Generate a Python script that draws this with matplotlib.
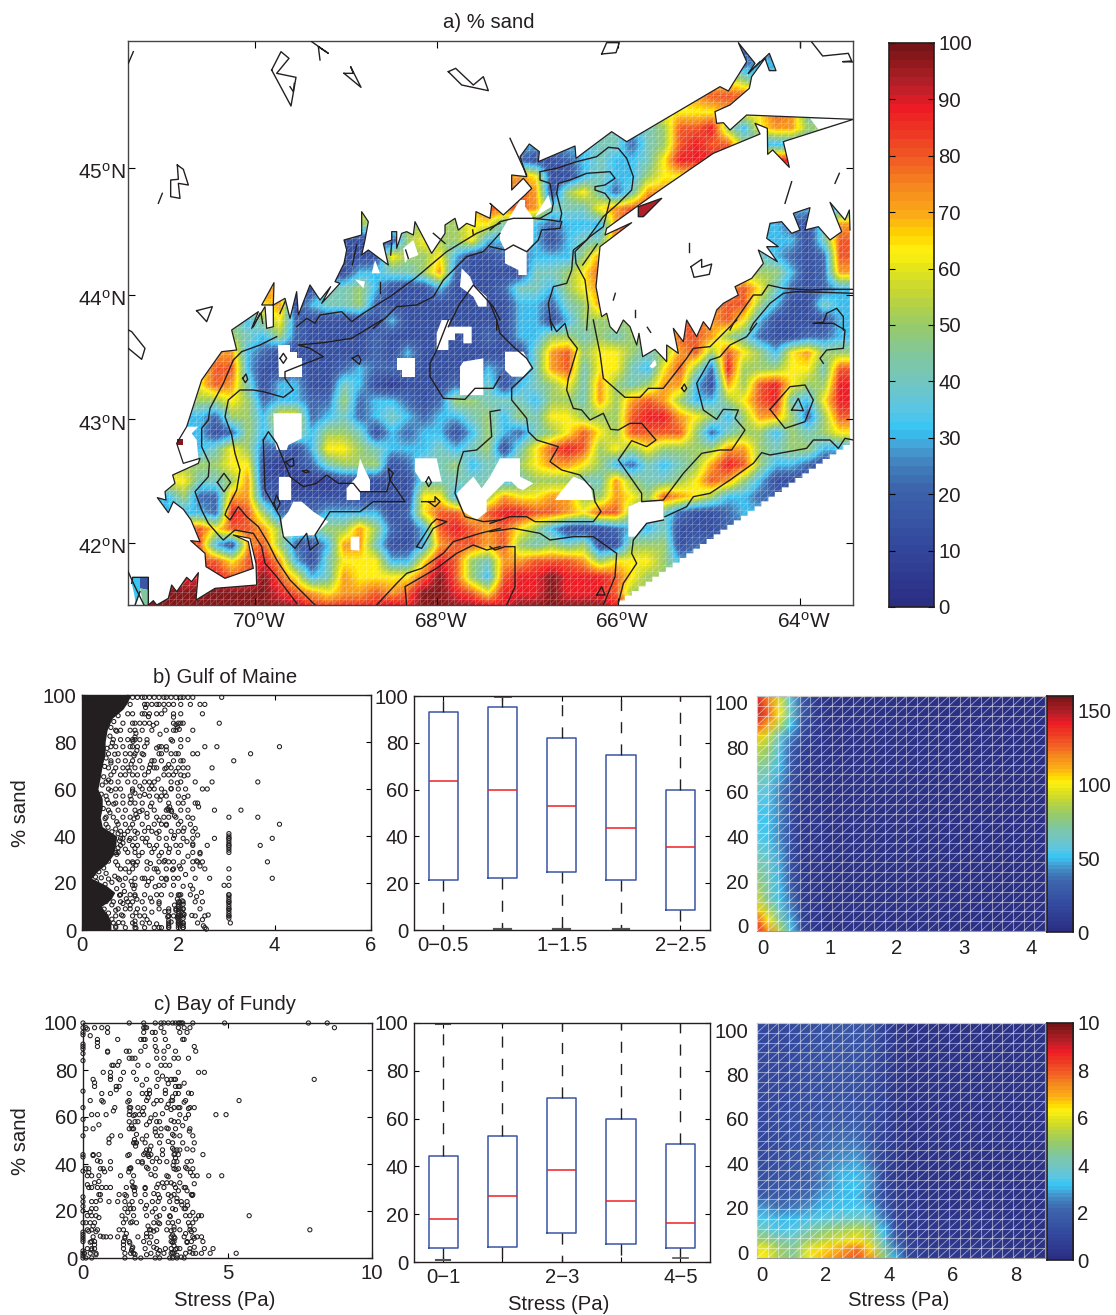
import numpy as np
import matplotlib
matplotlib.use('Agg')
import matplotlib.pyplot as plt
from matplotlib.collections import LineCollection
from matplotlib.colors import LinearSegmentedColormap
from matplotlib.patches import Polygon
from matplotlib.transforms import ScaledTranslation

plt.rcParams['font.family'] = ['Liberation Sans', 'DejaVu Sans']
plt.rcParams['mathtext.fontset'] = 'custom'
plt.rcParams['mathtext.rm'] = 'Liberation Sans'
plt.rcParams['mathtext.default'] = 'rm'
plt.rcParams['font.size'] = 14.6
plt.rcParams['text.color'] = '#231f20'
plt.rcParams['axes.edgecolor'] = '#231f20'
plt.rcParams['xtick.labelcolor'] = '#231f20'
plt.rcParams['ytick.labelcolor'] = '#231f20'

W, H = 1116, 1315
INK = '#231f20'

# % sand map, one character per 16 unit cell. 0-9 and X are sand classes
sand_classes = {'0': 6, '1': 13, '2': 21, '3': 31, '4': 41, '5': 50, '6': 63,
                '7': 72, '8': 80, '9': 88, 'X': 98}
sand_rows = [
    '22222 22222 22222 22222 22222 22222 22222 22222 22222 2',
    '33333 33333 33333 33333 33333 33333 33333 33223 35555 5',
    '55555 55555 55555 55555 55555 55555 55555 66653 33333 3',
    '66666 66666 66666 66666 66666 66666 66666 78888 88888 8',
    '66666 66666 66666 66666 66666 66666 66666 66766 87444 4',
    '44444 44444 44444 44444 44444 44444 43458 89536 77555 5',
    '33333 33333 33333 33333 33333 33334 42458 98853 33333 3',
    '22222 22222 22222 22222 22222 11234 33469 99999 99999 9',
    '77777 77777 77777 77777 77777 61134 33566 66666 66666 6',
    '77777 77777 77777 77777 77778 71564 24777 77777 77777 7',
    '66666 66666 66666 66666 66888 74446 78999 99933 33333 3',
    '55555 55555 55555 55555 56644 32333 79999 99333 32147 7',
    '11111 11111 11111 11565 56333 31344 89944 33333 33148 8',
    '11111 11111 11111 16556 31122 33357 88544 44444 32128 8',
    '11111 11111 11113 34457 21111 44568 88888 65555 53127 7',
    '88888 88886 11445 31113 11124 43567 77777 77786 42123 3',
    '55555 55567 13445 21111 11113 32457 77788 87885 31143 3',
    '55555 55356 21111 13111 11113 31355 55588 87863 11113 3',
    '55555 55435 21111 21111 11213 35545 45558 87542 11223 3',
    '77777 77321 11111 21311 11111 47856 65457 85865 36755 5',
    '66666 88311 21123 22211 11322 47846 64368 52955 56648 8',
    '66666 87413 31143 10111 21413 45647 54577 31758 96559 9',
    '55555 56523 32252 33212 55444 35547 57875 33568 94369 9',
    '33333 25536 62342 34323 34535 46655 58997 65357 75258 8',
    '33333 12535 53554 13233 13532 45686 58888 52455 35456 6',
    '33333 46522 13665 43334 34514 68985 65655 55775 45533 3',
    '55555 56610 12455 51244 53445 67765 32434 57985 33211 1',
    '66664 45711 00011 11144 44434 55544 75445 68753 11111 1',
    '33352 27721 11111 11166 34576 67755 76587 65332 22222 2',
    '33333 29852 22333 31268 86899 88768 85442 11233 33333 3',
    '88888 68875 44557 52138 98786 53111 23341 11222 22222 2',
    '88888 31785 21377 41137 88785 45451 15551 22222 22222 2',
    '88888 86897 31466 63369 85477 88875 66653 33333 33333 3',
    '99999 988X8 63476 6668X 85389 9X999 86555 55555 55555 5',
    'XXXXX XXXX9 87677 878XX 98699 9X999 85555 55555 55555 5',
    'XXXXX XXXXX X9999 9X9XX XXX9X XXXXX 99555 55555 55555 5',
]

# the map was digitised on four overlapping sheets at 3 units per map unit
sheet_origin = {'nw': (120, 30), 'sw': (120, 320), 'ne': (490, 30), 'se': (490, 320)}

coast_sw = [(85, 855), (100, 842), (110, 855), (145, 835), (155, 795), (170, 815), (200, 772), (215, 785),
            (235, 758), (228, 840), (285, 805), (410, 795), (408, 730), (390, 655), (340, 645), (385, 665),
            (400, 745), (315, 775), (258, 740), (255, 700), (212, 662), (240, 665), (213, 600), (190, 568),
            (160, 545), (145, 578), (112, 533), (138, 540), (135, 515), (165, 490), (158, 465), (235, 430),
            (240, 415), (190, 430), (170, 370), (200, 320), (245, 180), (305, 95), (350, 90), (335, 30)]
coast_nw = [(415, 845), (395, 895), (435, 830), (440, 895), (460, 890), (460, 825), (425, 825), (462, 758),
            (460, 825), (495, 805), (510, 865), (530, 785), (535, 855), (570, 765), (600, 810), (632, 770),
            (605, 820), (660, 760), (645, 755), (672, 700), (680, 660), (672, 630), (725, 615), (725, 545),
            (745, 575), (735, 630), (725, 675), (745, 660), (805, 705), (790, 640), (815, 630), (815, 605),
            (830, 605), (830, 655), (845, 610), (860, 605), (880, 615), (885, 575), (935, 670), (975, 610),
            (975, 585), (1005, 565), (1015, 600), (1040, 580), (1065, 590), (1068, 545), (1110, 565),
            (1115, 525)]
coast_ne = [(0, 520), (40, 555), (105, 495), (125, 475), (100, 445), (65, 480), (65, 435), (110, 440), (90, 380),
            (118, 342), (148, 365), (145, 395), (255, 348), (258, 385), (365, 305), (410, 335), (690, 170),
            (715, 183), (770, 95), (745, 38), (795, 100), (775, 130), (838, 70), (858, 122), (838, 122),
            (825, 85), (785, 140), (778, 175), (720, 225), (675, 245), (680, 280), (700, 278), (720, 300),
            (770, 255), (1090, 268), (880, 335), (898, 412), (848, 360), (833, 373), (832, 295), (795, 280),
            (810, 312), (670, 370), (510, 480), (440, 530), (350, 595), (345, 615), (425, 578), (330, 650),
            (318, 770), (335, 860), (350, 850)]
coast_se = [(360, 20), (380, 40), (400, 0), (420, 20), (440, 75), (447, 40), (458, 110), (495, 88), (530, 125),
            (530, 75), (565, 100), (550, 25), (580, 65), (590, 0), (620, 50), (640, 5), (660, 30)]
coast_ne2 = [(680, 840), (700, 820), (745, 795), (735, 770), (785, 745), (820, 700), (805, 660), (862, 695),
             (830, 650), (865, 650), (830, 625), (840, 580), (875, 575), (905, 610), (930, 600), (910, 550),
             (960, 533), (945, 600), (985, 590), (1020, 630), (1055, 605), (1020, 517), (1065, 570), (1078, 540),
             (1080, 600)]
# south east edge of the grid, on sheet se
stair_x = [1080, 1060, 1039, 1019, 998, 978, 957, 937, 916, 896, 876, 855, 835, 814, 794, 773, 753, 732, 712,
           691, 671, 650, 630, 610, 589, 569, 548, 528, 507, 487, 467, 446, 426, 405, 385]
stair_y = [375, 389, 403, 417, 431, 446, 460, 474, 488, 502, 516, 530, 544, 559, 573, 587, 601, 615, 629, 643,
           657, 672, 686, 700, 714, 728, 742, 756, 770, 785, 799, 813, 827, 841, 855]

# places without data inside the grid
holes_sw = [
    [(475, 75), (510, 75), (510, 95), (530, 95), (530, 115), (545, 115), (545, 170), (478, 170)],
    [(460, 280), (545, 280), (545, 355), (505, 375), (500, 390), (470, 390), (462, 350)],
    [(830, 115), (885, 115), (885, 170), (845, 170), (845, 150), (830, 150)],
    [(965, 0), (990, 0), (985, 20), (1055, 20), (1055, 70), (1030, 70), (1030, 40), (1005, 40), (1005, 60),
     (985, 60), (985, 90), (950, 90), (950, 40)],
    [(1030, 125), (1090, 115), (1090, 225), (1020, 225), (1020, 140)],
    [(478, 470), (512, 470), (512, 540), (478, 540)],
    [(520, 545), (545, 545), (580, 575), (625, 605), (585, 645), (485, 650), (485, 600), (505, 575)],
    [(680, 505), (710, 470), (720, 415), (735, 450), (750, 480), (750, 515), (720, 515), (720, 540), (680, 540)],
    [(885, 415), (950, 415), (965, 485), (905, 485), (885, 455)],
    [(692, 650), (718, 650), (718, 692), (692, 690)],
    [(1010, 520), (1060, 470), (1085, 505), (1110, 470), (1140, 415), (1200, 415), (1200, 470), (1240, 490),
     (1210, 510), (1195, 505), (1175, 485), (1155, 485), (1130, 510), (1100, 540), (1100, 575), (1070, 600),
     (1030, 575)],
    [(200, 320), (235, 320), (215, 340), (230, 360), (235, 415), (190, 430), (170, 370)],
]
holes_se = [
    [(195, 540), (205, 525), (250, 470), (300, 490), (310, 540)],
    [(415, 560), (450, 545), (520, 545), (520, 600), (470, 610), (435, 650), (415, 650)],
    [(45, 95), (100, 95), (125, 140), (100, 170), (65, 170), (45, 150)],
    [(478, 140), (495, 118), (500, 135), (488, 145)],
]
holes_ne = [
    [(30, 610), (90, 510), (105, 510), (105, 530), (130, 565), (130, 640), (110, 665), (110, 735), (85, 735),
     (85, 720), (45, 700), (45, 660), (30, 630)],
    [(135, 560), (175, 495), (185, 530)],
    [(960, 265), (1090, 268), (985, 298)],
]
holes_nw = [
    [(1025, 715), (1050, 740), (1060, 765), (1100, 800), (1100, 830), (1075, 830), (1060, 800), (1020, 770)],
    [(765, 690), (780, 730), (755, 730)],
    [(705, 748), (735, 755), (730, 775)],
    [(850, 655), (880, 630), (895, 675), (862, 688), (855, 700)],
]
# small pieces with their own sand value
pieces_ne = [([(445, 530), (515, 505), (460, 560), (445, 560)], 93)]
pieces_sw = [([(172, 358), (188, 358), (188, 375), (172, 375)], 98),
             ([(60, 772), (85, 772), (85, 810), (60, 805)], 16),
             ([(35, 790), (38, 772), (60, 772), (60, 815), (48, 855), (42, 820)], 32),
             ([(60, 805), (85, 810), (85, 855), (70, 855)], 45)]

# isobaths and islands, open lines, by sheet
lines_sw = [
    [(470, 50), (420, 75), (365, 95), (340, 120), (310, 190), (270, 265), (265, 300), (245, 325), (245, 380),
     (268, 430), (265, 470), (225, 515), (245, 570), (265, 610), (300, 650), (310, 660), (345, 630), (400, 640),
     (425, 680), (435, 730), (470, 770), (530, 850)],
    [(785, 0), (695, 55), (610, 68), (535, 75), (570, 85), (610, 110), (545, 135), (495, 155), (495, 175),
     (520, 210), (490, 232), (430, 215), (400, 210), (360, 210), (325, 240), (315, 290), (335, 345), (345, 400),
     (360, 450), (350, 510), (320, 570), (315, 585), (330, 600), (355, 560), (380, 590), (415, 620), (445, 670),
     (470, 720), (510, 780), (585, 855)],
    [(985, 0), (950, 90), (930, 130), (930, 170), (970, 235), (1035, 238), (1065, 205), (1120, 205), (1140, 170)],
    [(430, 360), (445, 335), (470, 370), (490, 420), (510, 470), (550, 500), (590, 490), (620, 465), (655, 490),
     (700, 490), (720, 515), (800, 515), (810, 480), (805, 445), (820, 460), (810, 480), (855, 545), (760, 545),
     (720, 575), (630, 575), (585, 645), (595, 670), (570, 690), (560, 640), (525, 685), (490, 650), (480, 590),
     (435, 510), (430, 360)],
    [(1140, 270), (1110, 275), (1115, 350), (1070, 390), (1030, 395), (1015, 440), (1005, 520), (1035, 590),
     (1090, 605), (1140, 600)],
    [(890, 680), (935, 610), (950, 597), (980, 605), (940, 625), (905, 685), (890, 680)],
    [(770, 855), (830, 790), (860, 760), (905, 745), (970, 700), (1000, 665), (1080, 640), (1140, 625)],
    [(860, 855), (855, 800), (950, 745), (1010, 700), (1060, 675), (1100, 690), (1140, 680)],
    [(480, 115), (490, 100), (500, 115), (490, 130), (480, 115)],
    [(368, 175), (378, 162), (383, 178), (376, 188), (368, 175)],
    [(697, 115), (715, 105), (723, 120), (718, 133), (697, 115)],
    [(292, 487), (312, 460), (332, 487), (312, 515), (292, 487)],
    [(462, 548), (470, 525), (480, 550), (470, 572), (462, 548)],
    [(497, 425), (520, 415), (522, 437), (510, 440), (497, 425)],
    [(548, 453), (560, 450), (568, 456), (556, 458), (548, 453)],
    [(918, 485), (926, 470), (934, 487), (926, 500), (918, 485)],
    [(905, 545), (945, 545), (945, 530), (960, 545), (945, 560), (925, 545)],
    [(25, 30), (35, 35), (75, 85), (65, 118), (25, 85)],
    [(35, 790), (38, 772), (85, 772), (85, 855)],
    [(22, 750), (45, 800), (72, 855)],
    [(45, 855), (60, 815)],
]
lines_nw = [
    [(530, 890), (560, 865), (585, 880), (600, 855), (665, 845), (695, 875), (730, 850), (810, 800), (885, 745),
     (950, 690), (980, 665), (1070, 610), (1140, 580)],
    [(760, 895), (800, 860), (830, 830), (890, 825), (940, 800), (970, 750), (1040, 680), (1090, 665), (1140, 610)],
    [(985, 890), (1020, 820), (1060, 765), (1120, 830), (1140, 870)],
    [(25, 100), (40, 65)],
    [(455, 120), (483, 65), (507, 85), (470, 130), (528, 142), (513, 228), (455, 120)],
    [(510, 170), (520, 185), (523, 160)],
    [(575, 35), (625, 70), (595, 50), (600, 90)],
    [(672, 130), (700, 130), (692, 110), (723, 172), (672, 130)],
    [(985, 125), (1007, 115), (1060, 165), (1090, 140), (1105, 182), (1025, 165), (985, 125)],
    [(172, 405), (190, 418), (205, 465), (175, 460), (180, 505), (152, 500), (152, 450), (175, 448), (172, 405)],
    [(115, 520), (127, 490)],
    [(230, 842), (277, 830), (260, 875), (230, 842)],
    [(697, 705), (710, 645)],
    [(812, 675), (815, 640)],
    [(857, 660), (865, 685)],
    [(780, 755), (780, 790)],
    [(940, 610), (975, 640)],
    [(1060, 615), (1058, 600)],
    [(400, 890), (420, 850)],
    [(480, 850), (495, 815)],
    [(428, 880), (423, 850)],
]
lines_ne = [
    [(130, 565), (180, 570), (210, 575), (215, 550), (200, 490), (205, 460), (240, 450), (290, 430), (360, 425),
     (375, 445), (345, 465), (315, 470), (315, 480), (345, 490), (360, 510), (340, 590), (300, 620), (255, 665),
     (258, 700), (285, 750), (295, 830), (290, 900)],
    [(150, 425), (150, 450), (180, 460), (190, 520), (185, 545), (150, 565), (130, 565)],
    [(150, 425), (200, 415), (260, 395), (320, 380), (355, 352), (385, 355), (410, 385), (430, 440), (425, 480),
     (385, 520), (340, 560), (290, 630), (250, 660), (245, 720), (230, 760), (190, 770), (175, 820), (185, 900)],
    [(0, 600), (30, 575), (70, 565), (130, 565)],
    [(0, 650), (45, 660), (70, 645), (110, 665), (145, 630), (155, 600), (210, 595), (215, 575)],
    [(0, 820), (20, 870), (20, 900)],
    [(1090, 778), (1000, 778), (960, 780), (880, 775), (835, 765), (815, 795), (790, 795), (730, 880), (720, 900)],
    [(1090, 790), (1030, 788), (920, 785), (880, 790), (840, 820), (790, 880), (780, 900)],
    [(970, 880), (1000, 877), (1010, 850), (1040, 835), (1060, 860), (1060, 900)],
    [(335, 72), (350, 38), (388, 38), (378, 68), (335, 72)],
    [(965, 36), (998, 78), (1075, 70), (1085, 93), (1058, 95), (1090, 96)],
    [(930, 36), (930, 52)],
    [(885, 520), (905, 455)],
    [(1035, 460), (1048, 430)],
    [(597, 640), (597, 665)],
    [(603, 710), (635, 688), (635, 712), (665, 702), (658, 733), (612, 742), (603, 710)],
    [(370, 810), (376, 790)],
    [(435, 840), (435, 862)],
    [(60, 325), (110, 435)],
    [(278, 705), (322, 642)],
    [(775, 130), (810, 95)],
    [(445, 530), (515, 505), (460, 560), (445, 560), (445, 530)],
]
lines_se = [
    [(20, 0), (30, 40), (70, 80), (110, 115), (128, 145), (100, 172), (65, 205), (65, 240), (110, 295), (115, 335),
     (140, 360), (205, 380), (180, 425), (215, 450), (270, 465), (310, 510), (315, 545), (333, 575), (310, 605),
     (235, 605), (135, 605), (110, 590), (60, 590), (30, 600), (0, 610)],
    [(180, 0), (200, 35), (225, 10), (235, 50), (262, 85), (235, 175), (230, 210), (250, 265), (275, 270), (300, 300),
     (340, 280), (362, 328), (385, 330), (420, 310), (455, 310), (498, 360), (470, 380), (425, 362), (385, 420),
     (455, 520), (455, 545), (520, 540), (580, 460), (635, 400), (690, 390), (725, 390), (765, 330), (735, 295),
     (745, 270), (700, 268), (680, 298), (640, 270), (620, 190), (660, 120), (690, 110), (720, 75), (770, 50),
     (800, 10)],
    [(310, 0), (330, 100), (340, 175), (405, 232), (450, 232), (475, 205), (520, 205), (590, 115), (610, 85),
     (660, 80), (720, 20), (740, 0)],
    [(0, 635), (70, 625), (150, 640), (180, 660), (250, 650), (310, 650), (380, 700), (375, 770), (340, 855)],
    [(520, 600), (470, 610), (430, 660), (425, 700), (440, 730), (400, 790), (385, 850)],
    [(525, 590), (590, 560), (610, 530), (660, 520), (720, 480), (790, 430), (815, 398), (840, 405), (950, 385),
     (970, 360), (1020, 360), (1045, 385), (1065, 355), (1090, 360)],
    [(840, 268), (900, 200), (945, 195), (970, 240), (945, 305), (885, 325), (840, 268)],
    [(905, 270), (925, 235), (940, 272), (905, 270)],
    [(0, 680), (15, 690), (45, 680), (75, 680), (75, 800), (50, 855)],
    [(320, 825), (335, 800), (345, 825), (320, 825)],
    [(1000, 130), (990, 115), (1010, 90), (1060, 85), (1065, 30), (1030, 10), (970, 10)],
    [(575, 205), (583, 192), (590, 205), (583, 215), (575, 205)],
    [(472, 22), (482, 37)],
]

map_lon_labels = ['70', '68', '66', '64']
map_lon_pos = [255, 436.7, 618.3, 800]
map_lat_labels = ['45', '44', '43', '42']
map_lat_pos = [167.7, 295, 419.3, 542.7]

# b) Gulf of Maine scatter. The dense part next to the axis is a filled band
gom_band_sand = [0, 3, 6, 10, 13, 16, 19, 22, 25, 28, 32, 36, 40, 44, 48, 52, 56, 60, 65, 70, 75, 80, 85, 90, 94, 97, 100]
gom_band_edge = [0.6, 0.6, 0.55, 0.4, 0.6, 0.68, 0.5, 0.2, 0.32, 0.5, 0.65, 0.7, 0.72, 0.42, 0.38, 0.42, 0.42, 0.33, 0.38, 0.42, 0.48, 0.48, 0.52, 0.62, 0.85, 0.95, 1.0]
gom_levels = [99, 96, 92, 88, 85, 81, 78, 75, 72, 69, 66, 63, 60, 57, 54, 51, 48, 45, 42, 39, 36, 33, 29, 26, 22, 19, 15, 12, 9, 6, 3, 1]
gom_stress = [
    [0.95, 1.05, 1.15, 1.25, 1.3, 1.4, 1.5, 1.6, 1.7, 1.75, 1.85, 1.95, 2.05, 2.1, 2.2, 2.3, 2.9],
    [1.0, 1.3, 1.35, 1.45, 1.55, 1.6, 1.7, 1.8, 1.9, 2.05, 2.25, 2.45, 2.55],
    [0.95, 1.05, 1.25, 1.3, 1.4, 1.55, 1.65, 1.9, 2.05, 2.5],
    [0.85, 1.05, 1.1, 1.2, 1.3, 1.4, 1.55, 1.9, 2.0, 2.05, 2.1, 2.85],
    [0.7, 0.8, 1.0, 1.1, 1.25, 1.45, 1.75, 1.9, 1.95, 2.3],
    [0.65, 0.8, 0.95, 1.05, 1.1, 1.2, 1.35, 1.85, 2.05, 2.2],
    [0.6, 0.7, 0.85, 1.0, 1.05, 1.15, 1.3, 1.6, 1.65, 1.75, 2.05, 2.55, 2.8, 4.1],
    [0.55, 0.75, 0.9, 1.0, 1.1, 1.25, 1.6, 1.65, 1.85, 1.95, 2.0, 2.3, 2.4, 3.5],
    [0.6, 0.75, 0.9, 1.05, 1.2, 1.45, 1.5, 1.65, 1.9, 2.05, 2.1, 3.15],
    [0.55, 0.7, 0.85, 0.95, 1.1, 1.25, 1.4, 1.5, 1.55, 1.75, 1.85, 2.0, 2.1, 2.2, 2.7],
    [0.6, 0.8, 0.9, 1.05, 1.15, 1.3, 1.7, 1.8, 1.9, 2.05, 2.2],
    [0.5, 0.6, 0.75, 0.95, 1.1, 1.3, 1.4, 1.5, 1.85, 2.05, 2.35, 2.7, 3.65],
    [0.55, 0.7, 0.8, 1.05, 1.25, 1.4, 1.5, 1.65, 1.85, 2.0, 2.15, 2.5, 2.6],
    [0.5, 0.7, 0.85, 1.0, 1.2, 1.4, 1.55, 1.65, 1.75, 2.0, 2.2],
    [0.55, 0.7, 0.85, 1.0, 1.1, 1.25, 1.45, 1.8, 2.0, 2.1, 2.35, 2.4],
    [0.55, 0.75, 0.9, 1.1, 1.25, 1.5, 1.75, 1.8, 1.85, 2.05, 2.2, 2.75, 3.3],
    [0.5, 0.65, 0.85, 1.0, 1.15, 1.35, 1.55, 1.7, 1.8, 1.95, 2.2, 3.05, 3.65],
    [0.5, 0.75, 0.9, 1.05, 1.25, 1.5, 1.65, 1.75, 2.0, 2.25, 4.1],
    [0.8, 0.95, 1.1, 1.3, 1.45, 1.6, 1.85, 2.0, 2.1, 2.3],
    [0.85, 1.0, 1.1, 1.25, 1.35, 1.6, 1.75, 1.9, 2.1, 2.3, 2.75, 3.05, 3.95],
    [0.8, 1.05, 1.15, 1.4, 1.55, 1.75, 1.95, 2.05, 2.3, 2.6, 3.05, 3.7],
    [0.75, 0.95, 1.1, 1.25, 1.45, 1.65, 1.8, 2.0, 2.3, 2.45, 3.05],
    [0.7, 0.95, 1.05, 1.15, 1.35, 1.6, 1.7, 1.8, 1.9, 2.1, 2.3, 2.4, 2.5, 3.85],
    [0.8, 0.9, 1.05, 1.35, 1.5, 1.55, 1.75, 1.9, 2.05, 2.3, 2.55, 3.05],
    [0.75, 0.9, 1.1, 1.25, 1.3, 1.45, 1.65, 1.75, 1.9, 2.0, 2.35, 2.65, 3.05, 3.95],
    [0.85, 1.05, 1.1, 1.35, 1.6, 1.7, 1.9, 2.25, 2.95, 3.05],
    [0.8, 1.0, 1.1, 1.3, 1.55, 1.65, 1.85, 2.0, 2.05, 2.25, 3.05],
    [0.65, 0.8, 0.95, 1.05, 1.25, 1.45, 1.6, 2.0, 2.1, 2.35, 2.5, 3.05],
    [0.75, 0.9, 1.0, 1.15, 1.3, 1.6, 1.8, 1.95, 2.05, 2.1, 2.45, 3.05],
    [0.7, 0.85, 1.05, 1.2, 1.3, 1.8, 1.9, 2.0, 2.05, 2.1, 2.35, 2.55, 3.05],
    [0.65, 0.85, 1.05, 1.25, 1.4, 1.8, 2.0, 2.05, 2.1, 2.4, 3.08],
    [0.7, 0.9, 1.1, 1.3, 1.6, 1.65, 1.8, 2.0, 2.1, 2.55],
]
# the columns of points near 3 Pa and 2 Pa
gom_col_sand = [41, 40, 39, 38, 37, 36, 35, 34, 15, 14, 13, 12, 11, 10, 9, 8, 7, 6, 5, 11, 10, 9, 8, 7, 6, 5, 4, 3, 2, 11, 9, 7, 5, 3, 2, 1, 8, 6, 4, 2, 41, 39, 37, 43, 35, 33]
gom_col_stress = [3.05, 3.05, 3.05, 3.05, 3.05, 3.05, 3.05, 3.05, 3.05, 3.05, 3.05, 3.05, 3.05, 3.05, 3.05, 3.05, 3.05, 3.05, 3.05, 2.0, 2.0, 2.0, 2.0, 2.0, 2.0, 2.0, 2.0, 2.0, 2.0, 2.1, 2.1, 2.1, 2.1, 2.1, 2.1, 2.1, 1.8, 1.8, 1.8, 1.8, 0.75, 0.8, 0.85, 0.7, 0.75, 0.7]
# loose points between the levels
gom_loose = [
    (.62, 98), (.7, 93.4), (.75, 91.2), (.66, 88.7), (.6, 86.2), (.72, 84.6), (.58, 82.5), (.63, 79.7), (.52, 77.3),
    (.68, 74.8), (.5, 73.2), (.6, 71.1), (.47, 69.6), (.66, 67.4), (.45, 65.2), (.55, 63.8), (.42, 61.7), (.6, 59.3),
    (.4, 57.8), (.52, 55.4), (.66, 53.6), (.44, 51.7), (.58, 49.9), (.48, 47.4), (.72, 46.1), (.54, 43.7), (.62, 41.8),
    (.88, 40.7), (.78, 37.9), (.9, 34.4), (.72, 32.2), (.55, 29.3), (.74, 27.6), (.45, 26.4), (.35, 24.8), (.5, 24.1),
    (.28, 22.6), (.4, 22.2), (.55, 21.7), (.68, 22.9), (.3, 20.6), (.48, 19.4), (.62, 20.3), (.78, 21.4), (.38, 18.2),
    (.72, 17.6), (.88, 16.4), (.92, 13.3), (.78, 14.8), (.5, 12.1), (.62, 10.7), (.46, 8.9), (.55, 7.2), (.7, 8.4),
    (.48, 5.8), (.62, 4.6), (.76, 3.2), (.7, 1.6), (.82, 6.4), (.85, 11.3),
    (1.12, 83.7), (1.1, 82.1), (1.06, 80.3), (1.14, 76.4), (1.08, 74.1), (1.02, 70.6), (.98, 67.7), (1.2, 61.2),
    (1.05, 59.1), (1.1, 58.2), (1.02, 55.6), (1.2, 50.4), (1.12, 49.2), (1.08, 47.3), (1.0, 43.4), (1.15, 41.2),
    (.98, 38.1), (1.1, 34.7), (1.18, 31.6), (1.06, 28.4), (1.12, 27.6), (.98, 24.6), (1.02, 20.7), (1.08, 17.6),
    (1.1, 14.4), (1.14, 13.1), (1.0, 10.6), (1.12, 7.4), (1.1, 3.8), (1.1, 2.2), (1.12, .8),
    (1.32, 94.7), (1.38, 90.8), (1.48, 87.1), (1.62, 83.3), (1.35, 79.6), (1.28, 74.6), (1.55, 77.4), (1.42, 70.4),
    (1.38, 67.3), (1.58, 64.2), (1.45, 61.3), (1.3, 57.7), (1.62, 55.3), (1.42, 52.6), (1.35, 49.6), (1.6, 46.7),
    (1.38, 43.6), (1.55, 41.2), (1.32, 37.4), (1.5, 34.7), (1.6, 31.6), (1.42, 28.3), (1.58, 24.7), (1.38, 20.6),
    (1.52, 18.4), (1.42, 13.6), (1.6, 11.2), (1.45, 7.6), (1.35, 4.4), (1.55, 2.6), (1.5, 1),
    (1.72, 93.6), (1.9, 90.6), (1.95, 87.4), (1.98, 86.3), (2.02, 85.4), (1.88, 80.4), (1.75, 76.6), (1.8, 70.4),
    (1.72, 68.6), (1.95, 67.4), (2.12, 65.6), (1.98, 62.6), (1.85, 60.2), (1.72, 58.6), (2.12, 56.4), (1.82, 52.4),
    (1.78, 51.6), (1.86, 50.4), (1.92, 48.6), (2.05, 46.2), (1.75, 44.6), (2.12, 43.4), (1.92, 40.2), (2.18, 37.6),
    (1.82, 34.6), (2.2, 31.4), (1.72, 29.6), (2.02, 27.2), (1.88, 25.6), (2.15, 23.6), (1.75, 21.4), (2.1, 18.6),
    (2.02, 14.8), (1.98, 13.2), (2.03, 11.6), (1.92, 10.6), (2.08, 12.4), (1.95, 8.4), (2.12, 6.6), (1.98, 5.2),
    (1.85, 3.4), (1.72, 7.8), (1.78, 5.6), (1.8, 1.2),
    (2.3, 47.6), (2.35, 43.2), (2.4, 40.4), (2.42, 52.4), (2.38, 29.4), (2.45, 27.2), (2.3, 17.4), (2.38, 14.2),
    (2.28, 6.2), (2.48, 16), (2.5, 4.4), (2.52, 1.8), (2.58, 0.4), (2.62, 6.4), (2.45, 32.4), (2.3, 36.6),
]

# c) Bay of Fundy scatter
fundy_levels = [100, 98, 96, 93, 90, 88, 85, 82, 79, 76, 73, 70, 67, 64, 61, 58, 55, 52, 49, 46, 44, 41, 38, 35, 32, 30, 27, 24, 21, 18, 15, 12, 9, 7, 4, 2, 0]
fundy_stress = [
    [1.6, 2.1, 2.5, 2.7, 2.8, 2.95, 3.1, 3.2, 3.3, 3.35, 3.4, 3.45, 3.8, 4.9, 7.8, 8.45],
    [0.1, 0.4, 0.65, 0.85, 2.1, 2.15, 2.2, 2.7, 3.3, 3.5, 3.7, 8.7],
    [0.85, 2.1, 2.4, 2.5, 2.8, 3.35, 3.6],
    [1.2, 0.5, 2.0, 2.1, 2.15, 2.5, 2.85, 3.5, 3.45],
    [0.5, 2.15, 2.5, 2.95, 3.85],
    [0.85, 1.5, 1.6, 2.0, 2.55, 2.8, 3.2, 3.9],
    [1.6, 1.7, 1.8, 2.55, 2.8, 3.15, 3.3, 3.65],
    [1.0, 1.05, 1.2, 1.9, 2.25, 2.7, 2.85, 3.0],
    [0.95, 0.7, 1.4, 1.75, 2.55, 3.3, 4.0, 4.2],
    [0.35, 0.95, 1.3, 1.85, 2.2, 2.6, 2.9, 3.05, 3.15, 3.2, 8.0],
    [0.4, 1.15, 1.25, 2.55, 3.2, 3.3, 3.35],
    [0.65, 0.95, 1.6, 2.05, 2.2, 2.3, 2.85, 3.2, 3.3, 3.75],
    [0.25, 0.65, 1.6, 2.2, 2.55, 2.7, 3.05, 3.1, 3.55, 5.4],
    [1.1, 1.6, 1.65, 1.9, 2.1, 2.9, 3.15, 3.3, 3.35, 3.7, 3.85],
    [0.3, 0.5, 0.8, 1.6, 1.8, 1.95, 2.1, 2.5, 3.35, 3.65, 4.6, 4.95],
    [1.6, 1.8, 1.9, 2.3, 2.55, 2.65, 3.15, 3.3],
    [0.1, 0.35, 1.75, 1.7, 1.6, 2.5, 2.7, 2.95, 3.2, 3.7],
    [1.0, 1.3, 2.2, 2.55, 2.7, 3.15, 3.35, 3.8],
    [0.9, 1.75, 1.8, 1.85, 2.15, 2.65, 3.1, 3.85, 3.45],
    [2.2, 2.3, 2.75, 3.15, 3.25, 3.35, 3.8],
    [0.35, 0.55, 1.6, 2.1, 2.25, 2.35, 2.75, 3.15, 3.3, 4.15],
    [0.6, 0.95, 1.9, 2.05, 2.4, 2.65, 2.9, 3.15, 3.25, 3.6],
    [0.1, 0.2, 0.6, 0.7, 0.95, 1.6, 1.65, 2.25, 2.5, 3.15, 3.3, 3.6, 3.8],
    [0.15, 0.3, 0.55, 1.3, 1.75, 2.5, 2.9, 3.35, 3.8, 3.95, 4.35, 4.8],
    [0.4, 2.75, 2.9, 3.05, 3.35],
    [0.2, 0.3, 0.5, 0.65, 0.8, 0.95, 1.5, 1.75, 1.8, 2.15, 2.55, 2.8, 3.2, 3.5, 3.55],
    [0.55, 0.6, 1.25, 1.45, 1.8, 2.15, 2.6, 2.95, 3.15, 3.75, 3.8],
    [0.3, 0.45, 0.9, 1.2, 1.45, 1.7, 2.0, 2.4, 2.6, 3.0, 3.25, 3.4, 3.6],
    [0.3, 0.45, 1.45, 1.65, 1.75, 2.15, 2.5, 2.8, 3.1, 3.5, 3.55],
    [0.15, 0.3, 0.45, 1.35, 1.75, 2.2, 2.65, 3.0, 3.55, 3.7, 4.0, 4.1, 5.75],
    [0.1, 0.25, 0.4, 1.4, 1.65, 1.85, 2.45, 2.6, 2.95, 3.1, 3.65, 3.8],
    [0.15, 0.3, 0.5, 1.25, 1.4, 2.3, 2.35, 2.55, 2.9, 3.15, 3.35, 3.7, 3.85, 7.85],
    [0.35, 0.7, 0.8, 0.95, 1.2, 1.45, 1.9, 2.2, 2.35, 3.05, 3.15, 3.5, 3.8, 3.95, 4.1],
    [0.3, 0.4, 1.4, 1.6, 2.1, 2.55, 3.05, 3.15, 3.6, 3.75, 4.15],
    [0.15, 0.3, 0.4, 1.4, 1.7, 2.15, 2.55, 2.85, 3.05, 3.25, 3.35, 3.7, 4.2, 4.5],
    [0.05, 0.25, 0.45, 1.45, 1.65, 1.75, 2.35, 2.6, 2.8, 3.05, 3.15, 3.55, 3.8, 3.9, 4.1, 4.4, 5.3],
    [0.1, 0.3, 1.45, 1.8, 2.0, 2.5, 2.65, 3.0, 3.1, 3.25, 3.5],
]
# points sitting on the zero stress axis
fundy_zero_sand = [100, 98, 96, 95, 91, 90, 89, 87, 84, 71, 64, 59, 52, 44, 43, 37, 26, 24, 22, 20, 15, 11, 10, 9, 8, 7, 3, 2, 1, 0]
fundy_loose = [
    (.15, 97.4), (.25, 94.6), (.5, 91.7), (.85, 87.6), (1.25, 83.6), (.95, 77.2), (1.15, 71.6), (.4, 74.6), (.7, 66.4),
    (1.05, 62.6), (.55, 56.7), (.9, 50.7), (.35, 43.6), (.5, 41.4), (.2, 36.4), (.75, 36.7), (.55, 32.6), (.15, 31.2),
    (.6, 24.6), (.25, 19.6), (.55, 17.2), (.35, 13.6), (.2, 11.4), (.45, 11.2), (.6, 9.3), (.25, 6.7), (.4, 5.6),
    (.3, 3.4), (.45, 1.4),
    (1.55, 66.4), (1.62, 62.4), (1.75, 60.6), (1.68, 56.2), (1.85, 52.6), (1.78, 50.4), (1.82, 47.6), (1.55, 43.6),
    (1.65, 38.4), (1.58, 36.6), (1.7, 32.4), (1.72, 30.4), (1.78, 28.6), (1.5, 26.4), (1.6, 22.6), (1.55, 19.4),
    (1.48, 16.6), (1.7, 15.4), (1.5, 10.4), (1.62, 6.4), (1.45, 8.4), (1.4, 5.6), (1.72, 4.6), (1.8, 1.6), (1.68, 3.2),
    (2.05, 73.6), (2.3, 71.4), (2.25, 68.2), (2.45, 65.6), (2.05, 62.3), (2.35, 59.6), (2.2, 56.7), (2.5, 53.6),
    (2.05, 50.6), (2.35, 47.6), (2.15, 44.7), (2.28, 43.2), (2.55, 42.4), (2.05, 40.4), (2.2, 38.6), (2.35, 35.6),
    (2.6, 31.4), (2.15, 29.6), (2.45, 27.4), (2.65, 25.6), (2.2, 22.4), (2.4, 19.6), (2.55, 17.4), (2.25, 13.6),
    (2.45, 11.4), (2.65, 14.6), (2.2, 10.4), (2.3, 6.4), (2.45, 4.6), (2.65, 3.2), (2.2, 1.4),
    (2.75, 77.4), (2.95, 74.2), (2.85, 71.4), (3.1, 68.6), (2.95, 65.4), (3.05, 63.2), (2.75, 61.4), (3.05, 58.6),
    (2.9, 55.3), (3.1, 52.6), (2.95, 49.6), (3.1, 46.7), (3.18, 44.3), (3.2, 42.6), (3.12, 39.4), (3.22, 37.6),
    (2.95, 34.6), (3.15, 31.3), (3.3, 28.6), (3.05, 26.3), (3.25, 25.4), (3.42, 22.6), (3.2, 20.6), (3.02, 17.6),
    (3.3, 15.6), (3.15, 13.2), (3.05, 11.6), (3.1, 9.8), (3.18, 8.4), (3.1, 6.6), (3.15, 5.2), (3.2, 3.6), (3.1, 2.2),
    (3.25, 1.2), (3.4, .4),
    (3.5, 74.4), (3.65, 70.2), (3.5, 66.3), (3.65, 63.6), (3.55, 59.4), (3.45, 56.3), (3.68, 54), (3.6, 46.4),
    (3.75, 41.2), (3.55, 38.6), (3.72, 36.4), (3.85, 31.6), (3.6, 28.6), (3.78, 26.6), (3.62, 22.4), (3.8, 19.4),
    (3.9, 16.6), (3.7, 13.6), (3.55, 10.4), (3.75, 11.2), (3.85, 8.4), (3.6, 6.6), (3.85, 4.6), (3.7, 2.6),
]

# box plots
gom_box_labels = ['0\u22120.5', '', '1\u22121.5', '', '2\u22122.5']
gom_q1 = [21.5, 22.3, 25, 21.5, 8.5]
gom_median = [63.8, 60, 52.8, 43.5, 35.5]
gom_q3 = [93.2, 95.3, 82, 74.8, 60]
gom_low = [0, 0, 0, 0, 0]
gom_high = [100, 100, 100, 100, 100]

fundy_box_labels = ['0\u22121', '', '2\u22123', '', '4\u22125']
fundy_q1 = [5.7, 6.3, 12, 7.7, 5.7]
fundy_median = [17.8, 27.8, 38.5, 25.7, 16.3]
fundy_q3 = [44.3, 52.8, 68.7, 60, 49.5]
fundy_low = [0.8, 0, 0, 0, 1.5]
fundy_high = [99.5, 100, 100, 100, 100]

# joint distributions of stress and sand
gom_hist_stress = [-0.08, 0.08, 0.25, 0.42, 0.6, 0.8, 1.0, 4.2]
gom_hist_sand = [-2.3, 3, 7, 12, 20, 30, 40, 50, 60, 70, 80, 85, 90, 95, 103]
gom_hist = [
    [140, 115, 85, 55, 15, 7, 4, 2],
    [125, 100, 70, 45, 12, 6, 4, 2],
    [105, 85, 62, 40, 10, 6, 4, 2],
    [90, 70, 52, 35, 9, 5, 4, 2],
    [78, 65, 48, 25, 8, 5, 3, 2],
    [65, 60, 45, 20, 7, 5, 3, 2],
    [55, 52, 42, 18, 7, 5, 3, 2],
    [52, 52, 40, 18, 7, 5, 3, 2],
    [58, 56, 42, 20, 8, 5, 3, 2],
    [70, 66, 48, 25, 9, 5, 3, 2],
    [88, 80, 56, 32, 12, 6, 4, 2],
    [105, 90, 62, 40, 15, 7, 4, 2],
    [130, 110, 85, 52, 22, 8, 4, 2],
    [145, 125, 100, 60, 28, 9, 4, 2],
    [140, 118, 92, 55, 25, 9, 4, 2],
]
fundy_hist_stress = [-0.16, 0.1, 0.5, 1, 1.5, 2, 2.5, 3, 3.4, 3.8, 4.2, 4.6, 5.2, 8.93]
fundy_hist_sand = [-2.7, 2, 5, 10, 15, 20, 25, 30, 35, 40, 50, 60, 70, 85, 103.2]
fundy_hist = [
    [6.2, 6.3, 5.2, 4.5, 6.2, 7, 7.5, 8, 7.2, 5, 3, 1, .5, .3],
    [6, 6, 5, 4.5, 6, 6.5, 7, 7.5, 6.5, 4.5, 2.5, 1, .5, .3],
    [5, 5, 4.5, 4.2, 5, 5.6, 6, 6.5, 5.6, 3.8, 2, .8, .4, .3],
    [4.2, 4, 3.4, 3.5, 4.2, 4.8, 5, 5.4, 5, 3.2, 1.5, .6, .4, .3],
    [3.4, 3.4, 3, 3, 3.4, 3.7, 3.9, 4, 3.8, 2.6, 1, .5, .4, .3],
    [2.8, 2.8, 2.2, 2.4, 2.8, 3, 3.2, 3.4, 3, 2, .8, .5, .3, .3],
    [1.8, 1.8, 1.8, 2, 2.2, 2.9, 3, 3, 2.6, 1.4, .7, .4, .3, .3],
    [1.5, 1.5, 1.6, 1.8, 2, 2.6, 3, 3.2, 2.8, 1.2, .6, .4, .3, .3],
    [1.3, 1.3, 1.5, 1.7, 2, 2.6, 3, 3.1, 2.7, 1.1, .6, .4, .3, .3],
    [1.2, 1.2, 1.4, 1.6, 1.9, 2.4, 2.8, 2.9, 2.3, 1, .5, .3, .3, .3],
    [1, 1, 1.2, 1.5, 1.7, 2.1, 2.2, 2.2, 1.7, .9, .5, .3, .3, .2],
    [1, 1, 1.1, 1.3, 1.4, 1.6, 1.7, 1.6, 1.4, .8, .4, .3, .2, .2],
    [1, 1, 1, 1.2, 1.3, 1.4, 1.5, 1.4, 1.2, .8, .4, .3, .2, .2],
    [1.1, 1, 1, 1.2, 1.3, 1.5, 1.5, 1.5, 1.4, .8, .4, .3, .2, .2],
    [1.1, 1, 1, 1.1, 1.4, 1.5, 1.6, 1.7, 1.5, .8, .4, .3, .2, .2],
]

# print colours of the jet scale
cmap_stops = [(0, '#2b2f83'), (0.1, '#33489d'), (0.2, '#3d62ab'), (0.25, '#4281bd'), (0.28, '#47a0d6'),
              (0.31, '#34c5f4'), (0.35, '#5cc6e4'), (0.4, '#75c7bd'), (0.45, '#82c79a'), (0.5, '#99cc66'),
              (0.55, '#c0d53a'), (0.6, '#e4e41a'), (0.63, '#fff212'), (0.66, '#ffd400'), (0.7, '#fbaa18'),
              (0.75, '#f5861f'), (0.8, '#f15a25'), (0.85, '#ee3424'), (0.89, '#ed1c24'), (0.93, '#b7202a'),
              (0.96, '#9a1c20'), (1, '#761417')]
jet_print = LinearSegmentedColormap.from_list('jet_print', cmap_stops, N=64)


def sheet(name, pts):
    ox, oy = sheet_origin[name]
    return [(ox + x / 3, oy + y / 3) for x, y in pts]


def add_ax(left, top, right, bottom):
    return fig.add_axes([left / W, 1 - bottom / H, (right - left) / W, (bottom - top) / H])


def label(x, y, text, **kw):
    fig.text(x / W, 1 - y / H, text, ha='center', va='center', **kw)


def box_style(ax):
    ax.tick_params(direction='in', top=True, right=True, length=3.5, width=0.8, pad=4)
    for s in ax.spines.values():
        s.set_linewidth(1.0)


def add_colorbar(left, top, right, bottom, vmax, ticks, tick_len=4):
    cax = add_ax(left, top, right, bottom)
    cax.imshow(np.linspace(vmax, 0, 64)[:, None], aspect='auto', cmap=jet_print, vmin=0, vmax=vmax,
               extent=(0, 1, 0, vmax), interpolation='nearest')
    cax.set_xticks([])
    cax.yaxis.tick_right()
    cax.set_yticks(ticks)
    cax.tick_params(direction='in', left=True, right=True, length=tick_len, width=0.8, pad=3)
    for s in cax.spines.values():
        s.set_linewidth(1.2)
    return cax


def add_mesh(ax, ncols, nrows):
    # triangle mesh of the interpolated surface
    xs = np.linspace(0, 1, ncols + 1)
    ys = np.linspace(0, 1, nrows + 1)
    segs = [[(x, 0), (x, 1)] for x in xs] + [[(0, y), (1, y)] for y in ys]
    ax.add_collection(LineCollection(segs, colors='white', alpha=0.45, linewidths=0.8, transform=ax.transAxes, zorder=3))
    diag = [[(xs[i], ys[j]), (xs[i + 1], ys[j + 1])] for i in range(ncols) for j in range(nrows)]
    ax.add_collection(LineCollection(diag, colors='white', alpha=0.55, linewidths=0.6, transform=ax.transAxes, zorder=3))


def shift_labels(labels, dx, dy):
    # moves tick labels by some pixels
    for lb in labels:
        lb.set_transform(lb.get_transform() + ScaledTranslation(dx / 100, dy / 100, fig.dpi_scale_trans))


fig = plt.figure(figsize=(W / 100, H / 100), dpi=100)

# ---- a) map
ax = add_ax(128, 41, 853, 605)
grid = np.array([[sand_classes[c] for c in row.replace(' ', '')] for row in sand_rows], dtype=float)
im = ax.imshow(grid, cmap=jet_print, vmin=0, vmax=100, extent=(128, 128 + 16 * grid.shape[1], 41 + 16 * grid.shape[0], 41),
               aspect='auto', interpolation='bilinear', interpolation_stage='data', zorder=1)

stair = sheet('se', [(stair_x[0], stair_y[0])])
for k in range(len(stair_x) - 1):
    stair += sheet('se', [(stair_x[k + 1], stair_y[k]), (stair_x[k + 1], stair_y[k + 1])])
shore = sheet('sw', coast_sw) + sheet('nw', coast_nw) + sheet('ne', coast_ne) + sheet('se', coast_se) + sheet('ne', coast_ne2)
coast = shore + stair
im.set_clip_path(Polygon(coast, closed=True, transform=ax.transData))

# grid cell lines over the colours
mx = np.arange(128, 860, 6.8)
my = np.arange(41, 610, 6.8)
segs = [[(x, 41), (x, 605)] for x in mx] + [[(128, y), (853, y)] for y in my]
segs += [[(x, y + 6.8), (x + 6.8, y)] for x in mx for y in my]
mesh = LineCollection(segs, colors='white', alpha=0.25, linewidths=0.5, zorder=1.5)
ax.add_collection(mesh)
mesh.set_clip_path(Polygon(coast, closed=True, transform=ax.transData))

for name, holes in (('sw', holes_sw), ('se', holes_se), ('ne', holes_ne), ('nw', holes_nw)):
    for h in holes:
        ax.add_patch(Polygon(sheet(name, h), closed=True, fc='white', ec='none', zorder=2))
for name, pieces in (('ne', pieces_ne), ('sw', pieces_sw)):
    for pts, value in pieces:
        ax.add_patch(Polygon(sheet(name, pts), closed=True, fc=jet_print(value / 100), ec='none', zorder=2.2))

# the grid edge to the south east has no shore line
ax.plot(*zip(*shore), color=INK, lw=0.9, zorder=3)
for name, lines in (('sw', lines_sw), ('nw', lines_nw), ('ne', lines_ne), ('se', lines_se)):
    for ln in lines:
        ax.plot(*zip(*sheet(name, ln)), color=INK, lw=1.0, zorder=3)

ax.set_xlim(128, 853)
ax.set_ylim(605, 41)
ax.set_xticks(map_lon_pos)
ax.set_xticklabels([s + '$^{o}$W' for s in map_lon_labels], fontsize=15)
ax.set_yticks(map_lat_pos)
ax.set_yticklabels([s + '$^{o}$N' for s in map_lat_labels], fontsize=15)
ax.tick_params(direction='in', top=True, right=True, length=5, width=0.8, pad=3)
shift_labels(ax.get_xticklabels(), 4, -3)
shift_labels(ax.get_yticklabels(), 2, -3)
for s in ax.spines.values():
    s.set_linewidth(1.0)
    s.set_color('#444444')
label(489, 22, 'a) % sand', fontsize=14.6)

add_colorbar(889, 43, 934, 607, 100, [0, 10, 20, 30, 40, 50, 60, 70, 80, 90, 100])

# ---- scatter panels
ax = add_ax(82, 695, 371, 930)
ax.fill_betweenx(gom_band_sand, 0, gom_band_edge, color=INK, lw=0, zorder=2)
loose_x, loose_y = zip(*gom_loose)
x = np.concatenate(gom_stress + [gom_col_stress, loose_x])
y = np.concatenate([np.repeat(v, len(s)) for v, s in zip(gom_levels, gom_stress)] + [gom_col_sand, loose_y])
ax.scatter(x, y, s=9, facecolors='none', edgecolors=INK, linewidths=0.75, clip_on=False, zorder=3)
ax.set_xlim(0, 6)
ax.set_ylim(0, 100)
ax.set_xticks([0, 2, 4, 6])
ax.set_yticks([0, 20, 40, 60, 80, 100])
box_style(ax)
label(225, 677, 'b) Gulf of Maine')
label(20, 813, '% sand', rotation=90)

ax = add_ax(83, 1023, 372, 1258)
loose_x, loose_y = zip(*fundy_loose)
x = np.concatenate(fundy_stress + [np.zeros(len(fundy_zero_sand)), loose_x])
y = np.concatenate([np.repeat(v, len(s)) for v, s in zip(fundy_levels, fundy_stress)] + [fundy_zero_sand, loose_y])
ax.scatter(x, y, s=9, facecolors='none', edgecolors=INK, linewidths=0.75, clip_on=False, zorder=3)
ax.set_xlim(0, 10)
ax.set_ylim(0, 100)
ax.set_xticks([0, 5, 10])
ax.set_yticks([0, 20, 40, 60, 80, 100])
box_style(ax)
label(225, 1004, 'c) Bay of Fundy')
label(225, 1301, 'Stress (Pa)')
label(20, 1141, '% sand', rotation=90)


# ---- box plots
def draw_boxes(ax, labels, low, q1, med, q3, high, low_caps, high_caps):
    stats = [dict(med=m, q1=a, q3=b, whislo=lo, whishi=hi) for lo, a, m, b, hi in zip(low, q1, med, q3, high)]
    art = ax.bxp(stats, positions=[1, 2, 3, 4, 5], widths=0.49, showfliers=False, manage_ticks=False, capwidths=0.25,
                 boxprops=dict(color='#3a55a4', lw=1.1), medianprops=dict(color='#ed2024', lw=1.1),
                 whiskerprops=dict(color=INK, lw=1.0, linestyle=(0, (8, 8))), capprops=dict(color='#555555', lw=1.2))
    # line width of each cap, 0 where the picture shows none
    for i in range(5):
        art['caps'][2 * i].set_linewidth(low_caps[i])
        art['caps'][2 * i + 1].set_linewidth(high_caps[i])
    ax.set_xlim(0.51, 5.5)
    ax.set_ylim(0, 100)
    ax.set_xticks([1, 2, 3, 4, 5])
    ax.set_xticklabels(labels)
    ax.set_yticks([0, 20, 40, 60, 80, 100])
    box_style(ax)


draw_boxes(add_ax(414, 696, 710, 930), gom_box_labels, gom_low, gom_q1, gom_median, gom_q3, gom_high,
           [0, 3, 3, 3, 0], [0, 2, 0, 0, 0])
draw_boxes(add_ax(414, 1023, 710, 1262), fundy_box_labels, fundy_low, fundy_q1, fundy_median, fundy_q3, fundy_high,
           [1.5, 0, 0, 0, 1.2], [1.5, 0, 0, 0, 0])
label(559, 1304, 'Stress (Pa)')

# ---- joint distributions
ax = add_ax(757, 696, 1045, 931)
ax.pcolormesh(gom_hist_stress, gom_hist_sand, np.array(gom_hist), cmap=jet_print, vmin=0, vmax=160, shading='gouraud')
add_mesh(ax, 27, 24)
ax.set_xlim(-0.08, 4.2)
ax.set_ylim(-2.3, 103)
ax.set_xticks([0, 1, 2, 3, 4])
ax.set_yticks([0, 20, 40, 60, 80, 100])
ax.tick_params(length=0, pad=6)
for s in ax.spines.values():
    s.set_color('#999999')
add_colorbar(1047, 696, 1073, 932, 160, [0, 50, 100, 150], tick_len=0)

ax = add_ax(757, 1023, 1045, 1258)
ax.pcolormesh(fundy_hist_stress, fundy_hist_sand, np.array(fundy_hist), cmap=jet_print, vmin=0, vmax=10, shading='gouraud')
add_mesh(ax, 27, 24)
ax.set_xlim(-0.16, 8.93)
ax.set_ylim(-2.7, 103.2)
ax.set_xticks([0, 2, 4, 6, 8])
ax.set_yticks([0, 20, 40, 60, 80, 100])
ax.tick_params(length=0, pad=6)
for s in ax.spines.values():
    s.set_color('#999999')
add_colorbar(1047, 1023, 1073, 1260, 10, [0, 2, 4, 6, 8, 10], tick_len=0)
label(899, 1301, 'Stress (Pa)')

fig.savefig('out.png', dpi=100)
